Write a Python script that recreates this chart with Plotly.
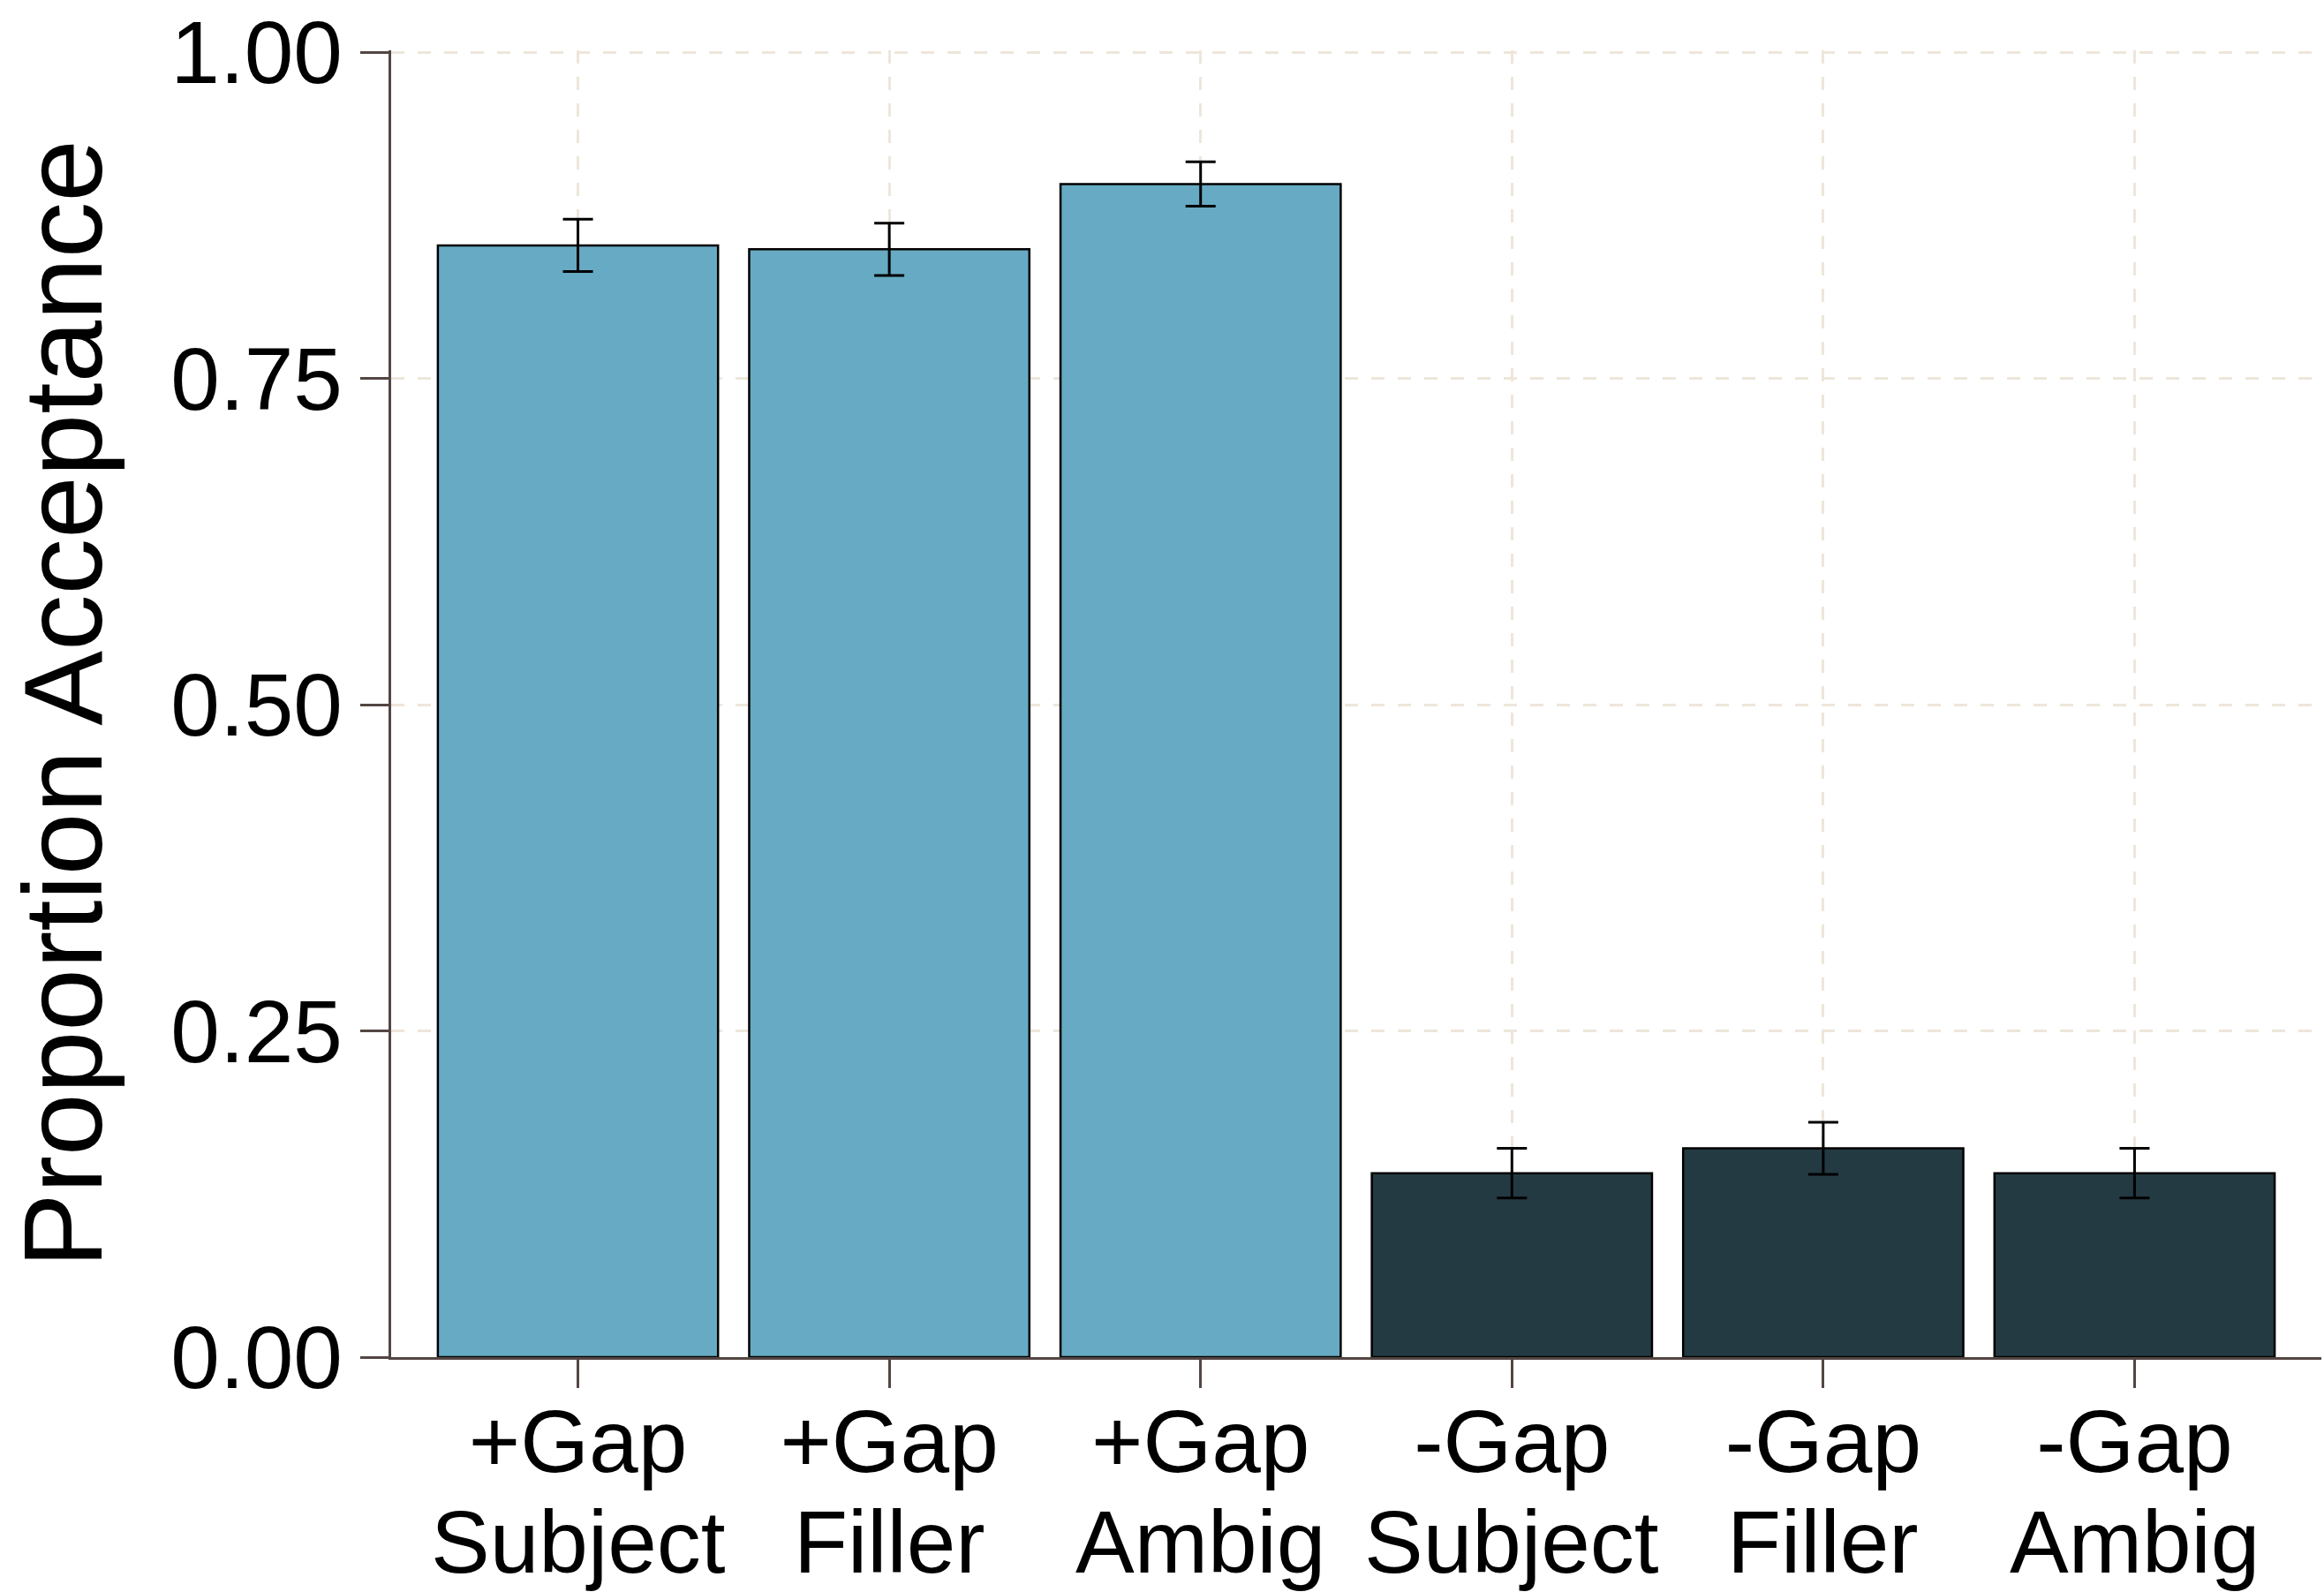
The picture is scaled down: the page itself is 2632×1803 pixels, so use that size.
import plotly.graph_objects as go

# Conditions: gap status (line 1) and filler type (line 2)
gap_labels = ["+Gap", "+Gap", "+Gap", "-Gap", "-Gap", "-Gap"]
type_labels = ["Subject", "Filler", "Ambig", "Subject", "Filler", "Ambig"]
acceptance = [0.852, 0.849, 0.899, 0.141, 0.160, 0.141]
std_error = [0.020, 0.020, 0.017, 0.019, 0.020, 0.019]
y_ticks = [0.0, 0.25, 0.5, 0.75, 1.0]

categories = [f"{g} {t}" for g, t in zip(gap_labels, type_labels)]
gap_colors = {"+Gap": "#67AAC3", "-Gap": "#233A42"}
bar_colors = [gap_colors[g] for g in gap_labels]

FONT = "Liberation Sans, Arial, Helvetica, sans-serif"
AXIS_COLOR = "#534643"
GRID_COLOR = "#EEE6DA"

fig = go.Figure(
    go.Bar(
        x=categories,
        y=acceptance,
        width=0.9,
        marker=dict(color=bar_colors, line=dict(color="#000000", width=2.5)),
        error_y=dict(type="data", array=std_error, color="#000000",
                     thickness=3, width=17),
        showlegend=False,
    )
)

# second line of each category label
for cat, t in zip(categories, type_labels):
    fig.add_annotation(
        x=cat, xref="x", y=-0.141, yref="paper", yanchor="middle",
        text=t, showarrow=False, font=dict(size=100, color="#000000", family=FONT),
    )

fig.update_layout(
    width=2632, height=1803,
    margin=dict(l=443, r=3, t=55, b=266, pad=0),
    paper_bgcolor="#FFFFFF", plot_bgcolor="#FFFFFF",
    font=dict(family=FONT, color="#000000"),
    bargap=0.1,
)
fig.update_xaxes(
    range=[-0.6, 5.6],
    tickvals=categories, ticktext=gap_labels,
    tickfont=dict(size=100, color="#000000"),
    ticklabelstandoff=-25,
    showline=True, linecolor=AXIS_COLOR, linewidth=3,
    ticks="outside", ticklen=32, tickwidth=3, tickcolor=AXIS_COLOR,
    showgrid=True, gridcolor=GRID_COLOR, gridwidth=3, griddash="15px,15px",
    zeroline=False,
)
fig.update_yaxes(
    range=[0, 1.0015],
    tickvals=y_ticks, tickformat=".2f",
    tickfont=dict(size=100, color="#000000"),
    title=dict(text="Proportion Acceptance", standoff=48,
               font=dict(size=127, color="#000000", family=FONT)),
    showline=True, linecolor=AXIS_COLOR, linewidth=3,
    ticks="outside", ticklen=32, tickwidth=3, tickcolor=AXIS_COLOR,
    showgrid=True, gridcolor=GRID_COLOR, gridwidth=3, griddash="15px,15px",
    zeroline=False,
)

fig.write_html("out.html")
